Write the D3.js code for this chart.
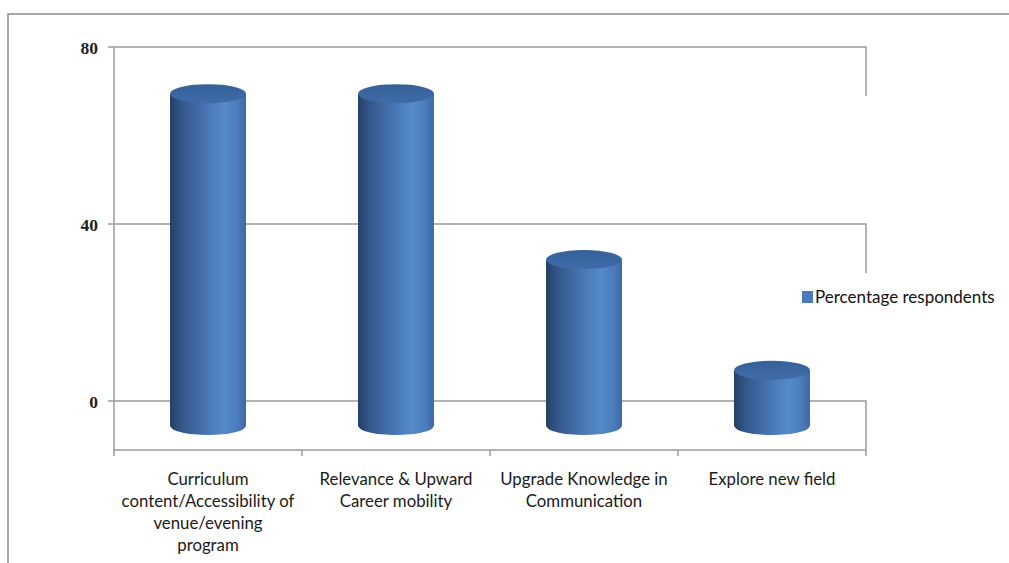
<!DOCTYPE html>
<html>
<head>
<meta charset="utf-8">
<script src="https://cdn.jsdelivr.net/npm/d3@7"></script>
<style>
  body { margin: 0; background: #fff; }
  svg { display: block; }
</style>
</head>
<body>
<svg id="chart"></svg>
<script>
// Data.
const categories = [
  "Curriculum content/Accessibility of venue/evening program",
  "Relevance & Upward Career mobility",
  "Upgrade Knowledge in Communication",
  "Explore new field"
];
const categoryLines = [
  ["Curriculum", "content/Accessibility of", "venue/evening", "program"],
  ["Relevance & Upward", "Career mobility"],
  ["Upgrade Knowledge in", "Communication"],
  ["Explore new field"]
];
const percentages = [75, 75, 37.5, 12.5];
const yTicks = [0, 40, 80];
const seriesName = "Percentage respondents";

const W = 1009, H = 563;
const plotLeft = 114, plotRight = 866, plotTop = 47, plotBottom = 401;
const depth = 49; // 3D floor depth
const svg = d3.select("#chart").attr("width", W).attr("height", H);

const xScale = d3.scaleBand()
  .domain(categories)
  .range([plotLeft, plotRight])
  .paddingInner(0.596)
  .paddingOuter(0.298);
const yScale = d3.scaleLinear().domain([0, 80]).range([plotBottom, plotTop]);

const bw = xScale.bandwidth();
const step = xScale.step();
const grid = "#9a9a9a";

// Outer chart border.
svg.append("path")
  .attr("d", "M8," + H + " V14 H" + W)
  .attr("fill", "none").attr("stroke", "#8c8c8c").attr("stroke-width", 1.5);

// Gridlines on back wall + side drop.
svg.append("g").selectAll("path")
  .data(yTicks)
  .join("path")
  .attr("d", d => "M" + plotLeft + "," + yScale(d) + " H" + plotRight + " V" + (yScale(d) + depth))
  .attr("fill", "none").attr("stroke", grid).attr("stroke-width", 1.5);

// Y axis line and ticks.
svg.append("line")
  .attr("x1", plotLeft).attr("x2", plotLeft)
  .attr("y1", plotTop).attr("y2", plotBottom + depth)
  .attr("stroke", grid).attr("stroke-width", 1.5);
svg.append("g").selectAll("line")
  .data(yTicks)
  .join("line")
  .attr("x1", plotLeft - 6).attr("x2", plotLeft)
  .attr("y1", d => yScale(d)).attr("y2", d => yScale(d))
  .attr("stroke", grid).attr("stroke-width", 1.5);
svg.append("g").selectAll("text")
  .data(yTicks)
  .join("text")
  .attr("x", plotLeft - 16)
  .attr("y", d => yScale(d) + 6.5)
  .attr("text-anchor", "end")
  .attr("font-family", "'Liberation Serif', serif")
  .attr("font-weight", "bold")
  .attr("font-size", 17.5)
  .attr("fill", "#222")
  .text(d => d);

// Floor front line (x axis) and category boundary ticks.
svg.append("line")
  .attr("x1", plotLeft).attr("x2", plotRight)
  .attr("y1", plotBottom + depth).attr("y2", plotBottom + depth)
  .attr("stroke", grid).attr("stroke-width", 1.5);
const bounds = categories.map(c => xScale(c) + bw / 2 - step / 2)
  .concat([xScale(categories[categories.length - 1]) + bw / 2 + step / 2]);
svg.append("g").selectAll("line")
  .data(bounds)
  .join("line")
  .attr("x1", d => d).attr("x2", d => d)
  .attr("y1", plotBottom + depth).attr("y2", plotBottom + depth + 6)
  .attr("stroke", grid).attr("stroke-width", 1.5);

// Gradients for cylinders.
const defs = svg.append("defs");
const body = defs.append("linearGradient").attr("id", "body")
  .attr("x1", "0%").attr("x2", "100%").attr("y1", "0%").attr("y2", "0%");
[["0%", "#243f66"], ["15%", "#33578a"], ["50%", "#4a78b7"], ["72%", "#568aca"],
 ["90%", "#4a7aba"], ["100%", "#3d67a2"]]
  .forEach(s => body.append("stop").attr("offset", s[0]).attr("stop-color", s[1]));
const cap = defs.append("linearGradient").attr("id", "cap")
  .attr("x1", "0%").attr("x2", "0%").attr("y1", "0%").attr("y2", "100%");
[["0%", "#35609a"], ["100%", "#3f6ca9"]]
  .forEach(s => cap.append("stop").attr("offset", s[0]).attr("stop-color", s[1]));

// Cylinders (placed at mid depth).
const rx = bw / 2, ry = 9.5, off = depth / 2;
const cyl = svg.append("g").selectAll("g")
  .data(categories.map((c, i) => ({ c: c, v: percentages[i] })))
  .join("g");
cyl.append("path")
  .attr("d", d => {
    const cx = xScale(d.c) + bw / 2;
    const yb = yScale(0) + off, yt = yScale(d.v) + off;
    return "M" + (cx - rx) + "," + yt + " V" + yb +
      " A" + rx + "," + ry + " 0 0 0 " + (cx + rx) + "," + yb +
      " V" + yt + " Z";
  })
  .attr("fill", "url(#body)");
cyl.append("ellipse")
  .attr("cx", d => xScale(d.c) + bw / 2)
  .attr("cy", d => yScale(d.v) + off)
  .attr("rx", rx).attr("ry", ry)
  .attr("fill", "url(#cap)");

// Category labels.
const labels = svg.append("g").selectAll("text")
  .data(categories)
  .join("text")
  .attr("text-anchor", "middle")
  .attr("font-family", "Lato, sans-serif")
  .attr("font-size", 16.8)
  .attr("fill", "#1a1a1a");
labels.each(function (c, i) {
  d3.select(this).selectAll("tspan")
    .data(categoryLines[i])
    .join("tspan")
    .attr("x", xScale(c) + bw / 2)
    .attr("y", (d, j) => 485 + j * 22)
    .text(d => d);
});

// Legend.
const legend = svg.append("g").attr("transform", "translate(802,291)");
legend.append("rect").attr("width", 11).attr("height", 12).attr("fill", "#4a7aba");
legend.append("text")
  .attr("x", 13).attr("y", 12)
  .attr("font-family", "Lato, sans-serif")
  .attr("font-size", 17)
  .attr("fill", "#111")
  .text(seriesName);
</script>
</body>
</html>
